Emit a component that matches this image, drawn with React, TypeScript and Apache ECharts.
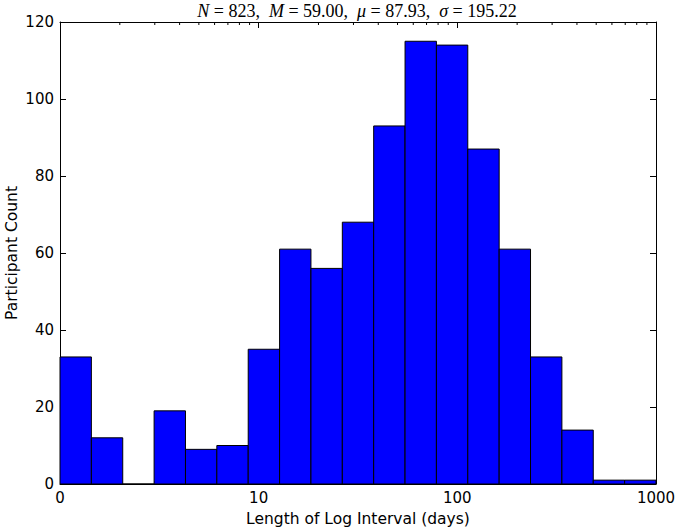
import React, { useEffect, useRef } from "react";
import * as echarts from "echarts";

// Histogram counts, 19 equal-width bins in log10(days) from 10^0 to 10^3
const counts = [33, 12, 0, 19, 9, 10, 35, 61, 56, 68, 93, 115, 114, 87, 61, 33, 14, 1, 1];
const logMin = 0;
const logMax = 3;
const xTickLabels = ["0", "10", "100", "1000"];
const minorTickValues = [2, 3, 4, 5, 6, 7, 8, 9, 20, 30, 40, 50, 60, 70, 80, 90, 200, 300, 400, 500, 600, 700, 800, 900];
const yMax = 120;
const yInterval = 20;

const titleText =
  "{i|N}{r| = 823,  }{i|M}{r| = 59.00,  }{i|μ}{r| = 87.93,  }{i|σ}{r| = 195.22}";

export default function App() {
  const ref = useRef<HTMLDivElement>(null);
  useEffect(() => {
    if (!ref.current) return;
    const chart = echarts.init(ref.current, null, { renderer: "svg" });
    const binW = (logMax - logMin) / counts.length;
    const barData = counts.map((c, i) => [logMin + i * binW, logMin + (i + 1) * binW, c]);
    const minorData = minorTickValues.map((v) => [Math.log10(v)]);
    const tickFont = { color: "#000", fontFamily: "DejaVu Sans", fontSize: 15 };
    const nameFont = { color: "#000", fontFamily: "DejaVu Sans", fontSize: 15.5 };
    const frameLine = { show: true, onZero: false, lineStyle: { color: "#000", width: 1 } };
    const majorTick = { show: true, inside: true, length: 6, lineStyle: { color: "#000" } };
    chart.setOption({
      animation: false,
      backgroundColor: "#fff",
      title: {
        text: titleText,
        left: 357,
        textAlign: "center",
        top: 2,
        padding: 0,
        textStyle: {
          fontWeight: "normal",
          rich: {
            i: { fontFamily: "Liberation Serif", fontStyle: "italic", fontWeight: "normal", fontSize: 18, color: "#000" },
            r: { fontFamily: "Liberation Serif", fontWeight: "normal", fontSize: 18, color: "#000" },
          },
        },
      },
      grid: { left: 60, right: 21, top: 22, bottom: 48, containLabel: false, outerBoundsMode: "none" },
      xAxis: [
        {
          type: "value",
          min: logMin,
          max: logMax,
          interval: 1,
          position: "bottom",
          name: "Length of Log Interval (days)",
          nameLocation: "middle",
          nameGap: 27,
          nameMoveOverlap: false,
          nameTextStyle: { ...nameFont },
          axisLine: frameLine,
          axisTick: majorTick,
          axisLabel: {
            ...tickFont,
            margin: 6,
            formatter: (v: number) => xTickLabels[Math.round(v - logMin)] ?? "",
          },
          splitLine: { show: false },
        },
        {
          type: "value",
          min: logMin,
          max: logMax,
          interval: 1,
          position: "top",
          axisLine: frameLine,
          axisTick: majorTick,
          axisLabel: { show: false },
          splitLine: { show: false },
        },
      ],
      yAxis: [
        {
          type: "value",
          min: 0,
          max: yMax,
          interval: yInterval,
          position: "left",
          name: "Participant Count",
          nameLocation: "middle",
          nameGap: 40,
          nameMoveOverlap: false,
          nameTextStyle: { ...nameFont },
          axisLine: frameLine,
          axisTick: majorTick,
          axisLabel: { ...tickFont, margin: 6 },
          splitLine: { show: false },
        },
        {
          type: "value",
          min: 0,
          max: yMax,
          interval: yInterval,
          position: "right",
          axisLine: frameLine,
          axisTick: majorTick,
          axisLabel: { show: false },
          splitLine: { show: false },
        },
      ],
      series: [
        {
          type: "custom",
          xAxisIndex: 0,
          yAxisIndex: 0,
          data: barData,
          renderItem: (params: any, api: any) => {
            const x0 = api.value(0);
            const x1 = api.value(1);
            const c = api.value(2);
            const p0 = api.coord([x0, 0]);
            const p1 = api.coord([x1, c]);
            return {
              type: "rect",
              shape: { x: p0[0], y: p1[1], width: p1[0] - p0[0], height: p0[1] - p1[1] },
              style: { fill: "#0000ff", stroke: "#000", lineWidth: 1 },
            };
          },
        },
        {
          type: "custom",
          xAxisIndex: 0,
          yAxisIndex: 0,
          data: minorData,
          z: 1,
          renderItem: (params: any, api: any) => {
            const v = api.value(0);
            const top = api.coord([v, yMax]);
            const bot = api.coord([v, 0]);
            return {
              type: "group",
              children: [
                { type: "line", shape: { x1: top[0], y1: top[1], x2: top[0], y2: top[1] + 3 }, style: { stroke: "#000", lineWidth: 1 } },
                { type: "line", shape: { x1: bot[0], y1: bot[1], x2: bot[0], y2: bot[1] - 3 }, style: { stroke: "#000", lineWidth: 1 } },
              ],
            };
          },
        },
      ],
    });
    return () => chart.dispose();
  }, []);
  return <div ref={ref} style={{ position: "absolute", left: 0, top: 0, width: 677, height: 532 }} />;
}
